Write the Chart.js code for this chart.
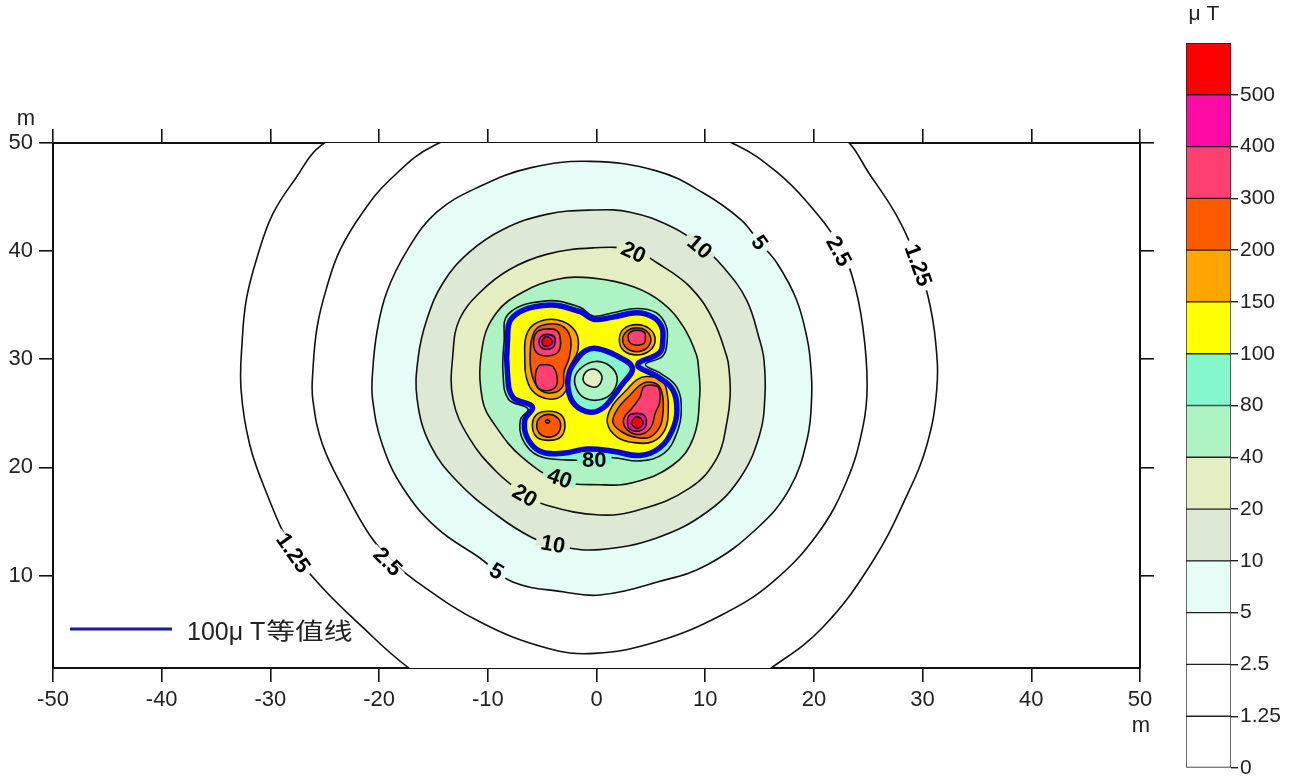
<!DOCTYPE html>
<html>
<head>
<meta charset="utf-8">
<script src="https://cdn.jsdelivr.net/npm/chart.js"></script>
<style>
  html, body { margin: 0; padding: 0; background: #ffffff; }
  #wrap { position: relative; width: 1297px; height: 776px; overflow: hidden; background: #ffffff; }
  #field { position: absolute; left: 0; top: 0; }
  #bar { position: absolute; left: 1180px; top: 0; }
</style>
</head>
<body>
<div id="wrap">
  <canvas id="field" width="1180" height="776"></canvas>
  <canvas id="bar" width="117" height="776"></canvas>
</div>
<script>
// ---- axes ----
const xTicks = [-50, -40, -30, -20, -10, 0, 10, 20, 30, 40, 50];
const yTicks = [10, 20, 30, 40, 50];
const xRange = [-50, 50];
const yRange = [1.45, 50];

// ---- colour bands (bottom to top), values in μT ----
const bandLevels = ['0', '1.25', '2.5', '5', '10', '20', '40', '80', '100', '150', '200', '300', '400', '500'];
const bandColors = ['#FFFFFF', '#FEFEFE', '#FEFEFE', '#E6FCF6', '#DDE9D5', '#E5EEC2', '#AEF3C3',
                    '#84F8CC', '#FFFF00', '#FFA500', '#FF5A00', '#FF4070', '#FF0AA5', '#FF0000'];

// ---- isolines, [x, y] in metres ----
const c1_25 = [[-0.7,60.3],[-13.5,57.5],[-25.3,49.8],[-27.7,46.7],[-29.8,43.4],[-31.2,39.5],[-32.2,35.6],[-32.6,31.6],
  [-32.7,27.2],[-31.9,22.1],[-30.3,17.5],[-28.2,12.8],[-25.7,9.4],[-21.5,5.2],[-17.2,1.4],[-10.7,-2.9],[-0.7,-4.3],
  [9.5,-2.9],[16.0,1.4],[20.8,5.2],[25.4,11.3],[28.6,17.5],[30.4,22.1],[31.3,27.2],[31.2,31.6],[30.5,35.8],
  [29.3,39.6],[27.6,43.3],[25.2,47.0],[22.6,50.6],[12.1,57.5]];
const c2_5 = [[-0.6,52.9],[-8.0,52.0],[-14.9,49.8],[-19.0,46.6],[-21.5,43.6],[-23.6,40.1],[-24.8,36.7],[-25.7,33.0],
  [-26.1,28.8],[-26.1,26.3],[-25.2,22.1],[-23.0,17.5],[-20.9,13.8],[-19.0,11.5],[-16.5,9.4],[-10.7,5.7],[-4.6,3.3],
  [-0.2,2.8],[5.6,3.9],[11.6,6.4],[16.2,9.4],[20.3,13.8],[23.0,18.7],[24.5,23.7],[24.9,27.6],[24.5,33.0],
  [23.6,37.4],[22.3,40.6],[19.4,44.5],[16.6,47.3],[12.9,49.8],[6.8,52.0]];
const c5 = [[-0.6,48.3],[-6.1,47.7],[-10.7,46.0],[-14.7,43.6],[-17.4,40.1],[-19.3,36.2],[-20.2,32.5],[-20.6,28.8],
  [-20.6,26.3],[-19.7,22.1],[-17.8,18.1],[-14.7,14.4],[-10.7,11.6],[-7.7,9.4],[-3.1,8.5],[0.3,8.2],[5.6,9.4],
  [10.2,11.0],[14.8,14.4],[17.8,18.1],[19.4,22.7],[19.8,26.7],[19.7,29.5],[19.4,31.8],[18.4,35.5],[16.6,38.9],
  [15.0,40.8],[13.3,42.9],[9.8,45.4],[5.6,47.4]];
const c10 = [[-0.3,43.8],[-4.6,43.4],[-8.6,42.0],[-11.7,39.9],[-14.1,37.1],[-15.6,33.7],[-16.4,30.2],[-16.5,26.3],
  [-15.3,22.1],[-12.8,18.7],[-9.2,15.6],[-5.9,13.5],[-3.4,12.7],[0.3,12.4],[5.6,13.5],[10.2,15.9],[13.2,19.0],
  [15.0,23.0],[15.5,26.7],[15.4,30.0],[15.0,31.8],[13.8,35.5],[11.6,38.6],[9.5,40.6],[6.8,42.3],[3.1,43.6]];
const c20 = [[-0.3,40.3],[-4.6,39.7],[-8.0,38.3],[-10.7,36.2],[-12.6,33.7],[-13.2,30.6],[-13.2,26.3],[-11.7,22.7],
  [-9.2,19.6],[-6.6,17.5],[-4.6,16.5],[0.3,15.6],[4.0,16.1],[8.6,18.1],[11.1,20.9],[12.0,24.2],[12.3,26.7],
  [12.2,29.0],[12.0,30.2],[10.7,33.7],[8.6,36.7],[5.6,38.9],[3.4,40.1]];
const c40 = [[-0.3,37.5],[-3.6,37.4],[-6.8,36.2],[-9.2,34.3],[-10.5,31.2],[-10.5,26.3],[-9.2,23.7],[-6.8,20.9],
  [-3.4,18.8],[0.3,18.4],[3.4,18.6],[7.0,20.2],[8.9,22.7],[9.5,26.7],[9.4,29.0],[9.2,30.4],[8.0,33.0],[6.1,35.2],[3.4,36.7]];
const c80 = [[-8.1,34.2],[-4.6,35.4],[-1.5,34.8],[-0.3,34.0],[1.5,34.3],[3.7,34.7],[5.5,34.3],[6.4,33.1],[6.5,31.7],
  [6.1,30.3],[4.5,29.5],[5.9,28.7],[7.4,27.4],[7.8,25.3],[7.4,23.2],[6.2,21.3],[4.0,20.6],[1.5,20.9],[-0.2,20.7],
  [-2.9,20.7],[-5.4,21.1],[-6.8,22.6],[-7.0,24.4],[-6.3,25.4],[-8.1,26.3],[-8.6,28.7],[-8.5,31.6]];
const c100 = [[-7.7,33.9],[-4.6,35.0],[-1.5,34.4],[-0.3,33.7],[1.5,33.9],[3.7,34.3],[5.2,33.9],[6.0,33.0],[6.1,31.8],
  [5.8,30.6],[3.8,29.5],[5.6,28.4],[7.0,27.2],[7.4,25.3],[7.0,23.5],[5.8,21.8],[4.0,21.1],[1.5,21.5],[-0.9,21.7],
  [-3.1,21.3],[-5.2,21.5],[-6.4,22.8],[-6.6,24.4],[-5.9,25.6],[-7.7,26.5],[-8.2,28.8],[-8.2,31.5]];
// central low inside the 100 μT ring
const hole100 = [[0.0,31.0],[1.7,30.4],[3.3,29.2],[2.3,27.6],[1.5,26.5],[0.6,25.5],[-0.6,25.1],[-2.0,25.8],
  [-2.6,27.2],[-2.5,28.8],[-1.8,30.0],[-1.0,30.8]];
const hole80 = [[-0.1,29.8],[1.2,29.4],[1.9,28.3],[1.5,27.0],[0.5,26.3],[-0.8,26.3],[-1.7,27.0],[-2.0,28.3],[-1.3,29.3]];
const hole40 = [[-0.3,29.1],[0.3,28.8],[0.5,28.2],[0.1,27.5],[-0.6,27.5],[-1.2,28.0],[-1.0,28.8]];
// upper-left peak
const tl150 = [[-4.9,33.6],[-3.1,33.5],[-1.9,32.5],[-1.7,30.9],[-2.4,29.3],[-2.6,27.5],[-3.6,26.4],[-5.3,26.6],[-6.3,27.8],[-6.6,30.2],[-6.3,32.6]];
const tl200 = [[-4.8,33.2],[-3.2,33.1],[-2.4,32.0],[-2.5,30.2],[-3.0,28.8],[-3.1,27.5],[-4.0,26.9],[-5.1,27.1],[-5.9,28.4],[-6.1,30.6],[-5.7,32.6]];
const tl300a = [[-4.6,32.8],[-3.6,32.6],[-3.3,31.5],[-3.6,30.6],[-4.6,30.3],[-5.5,30.6],[-5.8,31.5],[-5.5,32.5]];
const tl300b = [[-4.8,29.5],[-4.0,29.3],[-3.6,28.1],[-3.9,27.3],[-4.8,27.1],[-5.5,27.5],[-5.6,28.7],[-5.3,29.4]];
const tl400 = [[-4.6,32.3],[-3.9,32.1],[-3.8,31.6],[-4.0,31.1],[-4.6,30.9],[-5.1,31.1],[-5.3,31.6],[-5.1,32.1]];
const tl500 = [[-4.6,32.1],[-4.2,31.9],[-4.1,31.5],[-4.3,31.3],[-4.7,31.2],[-4.9,31.3],[-5.0,31.7],[-4.8,32.0]];
// upper-right peak
const tr150 = [[3.7,33.2],[4.9,32.8],[5.4,31.8],[4.9,30.8],[3.7,30.4],[2.5,30.8],[2.1,31.8],[2.5,32.8]];
const tr200 = [[3.7,32.9],[4.6,32.6],[5.0,31.8],[4.6,31.0],[3.7,30.7],[2.8,31.0],[2.4,31.8],[2.8,32.6]];
const tr300 = [[3.7,32.7],[4.4,32.5],[4.5,32.1],[4.4,31.5],[3.7,31.3],[3.1,31.5],[2.9,32.1],[3.1,32.5]];
// lower-right peak
const br150 = [[4.6,28.4],[6.0,28.1],[6.5,26.9],[6.6,25.1],[6.3,23.5],[5.2,22.4],[3.4,22.3],[1.9,22.8],[1.0,24.1],[1.4,25.6],[2.8,27.2],[3.7,28.1]];
const br200 = [[4.7,27.9],[5.7,27.6],[6.1,26.5],[6.1,24.9],[5.8,23.7],[4.9,22.8],[3.5,22.8],[2.3,23.3],[1.5,24.2],[2.0,25.5],[3.1,26.7],[4.0,27.6]];
const br300 = [[4.7,27.6],[5.7,27.4],[5.8,26.0],[5.4,25.0],[5.0,23.7],[4.0,23.05],[2.8,23.5],[2.5,24.5],[3.2,25.4],[4.0,26.5],[4.3,27.4]];
const br400 = [[3.7,25.0],[4.4,24.8],[4.6,24.2],[4.4,23.6],[3.7,23.35],[3.0,23.6],[2.85,24.2],[3.0,24.8]];
const br500 = [[3.7,24.7],[4.1,24.5],[4.3,24.1],[4.1,23.8],[3.7,23.6],[3.4,23.8],[3.2,24.1],[3.4,24.5]];
// lower-left peak
const bl150 = [[-4.4,25.2],[-3.3,24.9],[-2.9,23.9],[-3.3,22.8],[-4.4,22.5],[-5.5,22.8],[-5.9,23.9],[-5.5,24.9]];
const bl200 = [[-4.4,24.9],[-3.6,24.6],[-3.3,23.9],[-3.6,23.1],[-4.4,22.8],[-5.2,23.1],[-5.5,23.9],[-5.2,24.6]];
const bl300 = [[-4.5,24.4],[-4.3,24.25],[-4.5,24.1],[-4.7,24.25]];

// ring list, outermost first: [points, colour band inside the ring, highlighted 100 μT line]
const rings = [
  [c1_25, 1, false], [c2_5, 2, false], [c5, 3, false], [c10, 4, false], [c20, 5, false], [c40, 6, false],
  [c80, 7, false], [c100, 8, true], [hole100, 7, true], [hole80, 6, false], [hole40, 5, false],
  [tl150, 9, false], [tl200, 10, false], [tl300a, 11, false], [tl300b, 11, false], [tl400, 12, false], [tl500, 13, false],
  [tr150, 9, false], [tr200, 10, false], [tr300, 11, false],
  [br150, 9, false], [br200, 10, false], [br300, 11, false], [br400, 12, false], [br500, 13, false],
  [bl150, 9, false], [bl200, 10, false], [bl300, 11, false]
];

// isoline value labels: level text, anchor on the line, rotation in degrees
const labelSpots = [
  ['20', 3.4, 39.9, 25], ['10', 9.5, 40.4, 40], ['5', 15.0, 40.8, 55], ['2.5', 22.3, 40.0, 62], ['1.25', 29.6, 38.7, 70],
  ['1.25', -27.9, 12.1, 55], ['2.5', -19.2, 11.3, 45], ['5', -9.2, 10.4, 30], ['10', -4.0, 12.9, 10],
  ['20', -6.6, 17.4, 30], ['40', -3.4, 19.0, 20], ['80', -0.2, 20.7, 0]
];

const legendText = '100μ T';
const legendTextCJK = '等值线';
const unitText = 'm';
const barTitleText = 'μ T';

const FONT = '"Liberation Sans", Arial, "Noto Sans CJK SC", sans-serif';
const CJK = '"Noto Sans CJK SC", "Liberation Sans", sans-serif';
const INK = '#222222';

const datasets = rings.map(([pts, band, blue]) => ({
  data: pts.map(([x, y]) => ({ x, y })),
  band,
  showLine: true,
  fill: false,
  tension: 0.4,
  pointRadius: 0,
  pointHoverRadius: 0,
  borderColor: blue ? '#0505D8' : '#111111',
  borderWidth: blue ? 5.5 : 1.6,
  order: blue ? 0 : 1
}));

// closed isolines: make each line element a loop, then paint the band colours beneath the lines
const ringFill = {
  id: 'ringFill',
  afterUpdate(chart) {
    chart.data.datasets.forEach((ds, i) => {
      const line = chart.getDatasetMeta(i).dataset;
      if (!line) return;
      line._loop = true;
      line._fullLoop = true;
      delete line._segments;
      line._path = undefined;
      line._pointsUpdated = false;
    });
  },
  beforeDatasetsDraw(chart) {
    const { ctx, chartArea: a } = chart;
    ctx.save();
    ctx.beginPath();
    ctx.rect(a.left, a.top, a.right - a.left, a.bottom - a.top);
    ctx.clip();
    chart.data.datasets.forEach((ds, i) => {
      const line = chart.getDatasetMeta(i).dataset;
      if (!line) return;
      line.updateControlPoints(a, 'x');
      ctx.beginPath();
      line.path(ctx);
      ctx.closePath();
      ctx.fillStyle = bandColors[ds.band];
      ctx.fill();
    });
    ctx.restore();
  }
};

// value labels written along the isolines
const ringLabels = {
  id: 'ringLabels',
  afterDatasetsDraw(chart) {
    const { ctx, scales } = chart;
    ctx.save();
    ctx.font = 'bold 22px ' + FONT;
    ctx.textAlign = 'center';
    ctx.textBaseline = 'middle';
    labelSpots.forEach(([txt, x, y, rot]) => {
      const px = scales.x.getPixelForValue(x);
      const py = scales.y.getPixelForValue(y);
      const w = ctx.measureText(txt).width;
      ctx.save();
      ctx.translate(px, py);
      ctx.rotate(rot * Math.PI / 180);
      ctx.fillStyle = bandColors[bandLevels.indexOf(txt)];
      ctx.fillRect(-w / 2 - 5, -4, w + 10, 8);
      ctx.fillStyle = '#000000';
      ctx.fillText(txt, 0, 1);
      ctx.restore();
    });
    ctx.restore();
  }
};

// unit marks and the 100 μT line key
const fieldNotes = {
  id: 'fieldNotes',
  afterDraw(chart) {
    const { ctx, scales, chartArea: a } = chart;
    ctx.save();
    ctx.fillStyle = INK;
    ctx.font = '22px ' + FONT;
    ctx.textAlign = 'center';
    ctx.textBaseline = 'alphabetic';
    ctx.fillText(unitText, a.left - 27, a.top - 18);
    ctx.fillText(unitText, scales.x.getPixelForValue(xRange[1]) + 1, 732);

    ctx.strokeStyle = '#1818A8';
    ctx.lineWidth = 3;
    ctx.beginPath();
    ctx.moveTo(70, 629);
    ctx.lineTo(172, 629);
    ctx.stroke();

    ctx.textAlign = 'left';
    ctx.font = '25px ' + FONT;
    ctx.fillText(legendText, 187, 640);
    const w = ctx.measureText(legendText).width;
    ctx.translate(187 + w + 1, 640);
    ctx.scale(1.25, 1);
    ctx.font = '23px ' + CJK;
    ctx.fillText(legendTextCJK, 0, -1);
    ctx.restore();
  }
};

const tickFont = { family: FONT, size: 22 };
const edgeGrid = { drawOnChartArea: false, drawTicks: true, tickLength: 14, color: '#111111', lineWidth: 1.6 };
const edgeBorder = { display: true, color: '#111111', width: 2 };
const setX = s => { s.ticks = xTicks.map(v => ({ value: v })); };
const setY = s => { s.ticks = yTicks.map(v => ({ value: v })); };

new Chart(document.getElementById('field'), {
  type: 'scatter',
  data: { datasets },
  options: {
    responsive: false,
    animation: false,
    devicePixelRatio: 1,
    layout: { padding: 0 },
    elements: { line: { capBezierPoints: false }, point: { radius: 0 } },
    plugins: { legend: { display: false }, tooltip: { enabled: false } },
    scales: {
      x: {
        type: 'linear', position: 'bottom', min: xRange[0], max: xRange[1],
        afterBuildTicks: setX,
        afterFit: s => { s.height = 108; s.paddingLeft = 0; s.paddingRight = 0; },
        ticks: { font: tickFont, color: INK, padding: 5, maxRotation: 0, autoSkip: false },
        grid: edgeGrid, border: edgeBorder
      },
      xTop: {
        type: 'linear', position: 'top', min: xRange[0], max: xRange[1],
        afterBuildTicks: setX,
        afterFit: s => { s.height = 143; s.paddingLeft = 0; s.paddingRight = 0; },
        ticks: { display: false },
        grid: edgeGrid, border: edgeBorder
      },
      y: {
        type: 'linear', position: 'left', min: yRange[0], max: yRange[1],
        afterBuildTicks: setY,
        afterFit: s => { s.width = 53; s.paddingTop = 0; s.paddingBottom = 0; },
        ticks: { font: tickFont, color: INK, padding: 6 },
        grid: edgeGrid, border: edgeBorder
      },
      yRight: {
        type: 'linear', position: 'right', min: yRange[0], max: yRange[1],
        afterBuildTicks: setY,
        afterFit: s => { s.width = 40; s.paddingTop = 0; s.paddingBottom = 0; },
        ticks: { display: false },
        grid: edgeGrid, border: edgeBorder
      }
    }
  },
  plugins: [ringFill, ringLabels, fieldNotes]
});

// colour scale
const barTitle = {
  id: 'barTitle',
  afterDraw(chart) {
    const { ctx } = chart;
    ctx.save();
    ctx.fillStyle = INK;
    ctx.font = '21px ' + FONT;
    ctx.textAlign = 'center';
    ctx.textBaseline = 'alphabetic';
    ctx.fillText(barTitleText, 24, 20);
    ctx.restore();
  }
};

new Chart(document.getElementById('bar'), {
  type: 'bar',
  data: {
    labels: [''],
    datasets: bandColors.map((c, i) => ({
      data: [[i, i + 1]],
      backgroundColor: c,
      borderColor: '#222222',
      borderWidth: 1,
      borderSkipped: false,
      barPercentage: 1,
      categoryPercentage: 1,
      grouped: false
    }))
  },
  options: {
    responsive: false,
    animation: false,
    devicePixelRatio: 1,
    layout: { padding: { left: 6, top: 43, bottom: 8, right: 0 } },
    plugins: { legend: { display: false }, tooltip: { enabled: false } },
    scales: {
      x: { display: false },
      y: {
        type: 'linear', position: 'right', min: 0, max: bandLevels.length,
        afterBuildTicks: s => { s.ticks = bandLevels.map((_, i) => ({ value: i })); },
        afterFit: s => { s.width = 66; s.paddingTop = 0; s.paddingBottom = 0; },
        ticks: { callback: v => bandLevels[v], font: { family: FONT, size: 21 }, color: INK, padding: 2 },
        grid: { drawOnChartArea: false, drawTicks: true, tickLength: 7, color: '#222222', lineWidth: 1.4 },
        border: { display: false }
      }
    }
  },
  plugins: [barTitle]
});
</script>
</body>
</html>
